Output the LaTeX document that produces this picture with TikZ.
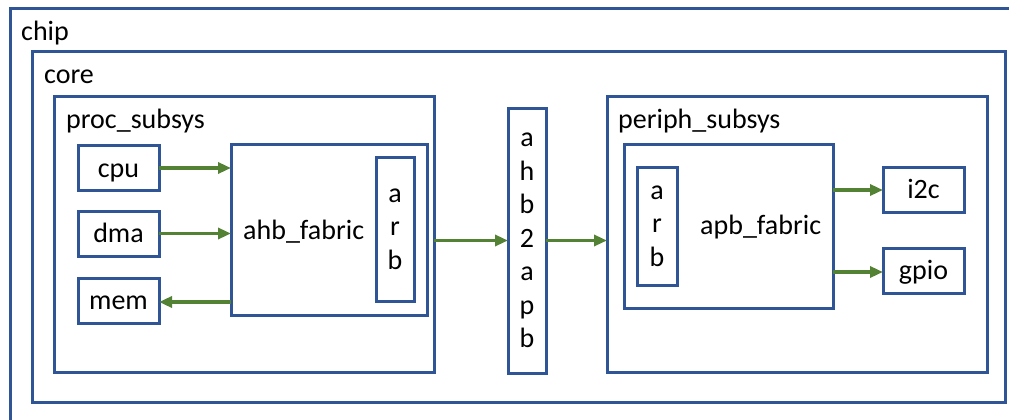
\documentclass[tikz,border=0pt]{standalone}
\usepackage{fontspec}
\setmainfont{Carlito}
\usetikzlibrary{arrows.meta}
\definecolor{blockblue}{RGB}{47,85,151}
\definecolor{wiregreen}{RGB}{84,130,53}
\tikzset{%
    blk/.style={draw=blockblue,line width=3pt,inner sep=0pt,outer sep=0pt}
}

\begin{document}
\begin{tikzpicture}[
        x=1pt, y=-1pt,
        font=\fontsize{28}{33.5}\selectfont,
        wire/.style={draw=wiregreen,line width=3.2pt,-{Triangle[length=13pt,width=11pt]}},
        lbl/.style={anchor=base west,inner sep=0pt},
        ip/.style={blk,minimum width=81pt,minimum height=45pt,text height=20pt,text depth=2pt}
        ]
        \useasboundingbox (0,0) rectangle (1009,420);
        \clip (0,0) rectangle (1009,420);

        % containers
        \node[blk,minimum width=1002pt,minimum height=416pt] (chip) at (511,217){};
        \node[blk,minimum width=973pt,minimum height=350pt] (core) at (518.5,227){};
        \node[blk,minimum width=380pt,minimum height=276pt] (proc) at (244,234){};
        \node[blk,minimum width=380pt,minimum height=276pt] (periph) at (797,234){};

        \node[lbl] (chiptxt) at (21,41){chip};
        \node[lbl] (coretxt) at (44,84){core};
        \node[lbl] (proctxt) at (66,128){proc\_subsys};
        \node[lbl] (periphtxt) at (618,128){periph\_subsys};

        % proc_subsys
        \node[ip] (cpu) at (118.5,168){cpu};
        \node[ip] (dma) at (118.5,233.5){dma};
        \node[ip] (mem) at (118.5,300.5){mem};
        \node[blk,minimum width=196pt,minimum height=171pt] (ahb) at (329,229.5){};
        \node[lbl] (ahbtxt) at (243,239){ahb\_fabric};
        \node[blk,minimum width=38pt,minimum height=144pt,align=center] (arb1) at (395,229){a\\r\\b};

        % bridge
        \node[blk,minimum width=38pt,minimum height=265pt,align=center] (ab2ap) at (527,240.5){a\\h\\b\\2\\a\\p\\b};

        % periph_subsys
        \node[blk,minimum width=209pt,minimum height=164pt] (apb) at (728.5,226){};
        \node[lbl] (apbtxt) at (700,234){apb\_fabric};
        \node[blk,minimum width=40pt,minimum height=118pt,align=center] (arb2) at (657,226){a\\r\\b};
        \node[ip] (i2c) at (923.5,189.5){i2c};
        \node[ip] (gpio) at (923.5,270.5){gpio};

        \draw[wire] (cpu) -- (cpu -| ahb.west);
        \draw[wire] (dma) -- (dma -| ahb.west);
        \draw[wire] (ahb.west |- 0,302) -- (mem.east |- 0,302);
        \draw[wire] (proc.east |- ab2ap.west) -- (ab2ap.west);
        \draw[wire] (ab2ap.east) -- (ab2ap.east -| periph.west);
        \draw[wire] (apb.east |- 0,190) -- (i2c.west |- 0,190);
        \draw[wire] (apb.east |- 0,272) -- (gpio.west |- 0,272);
    \end{tikzpicture}
\end{document}
